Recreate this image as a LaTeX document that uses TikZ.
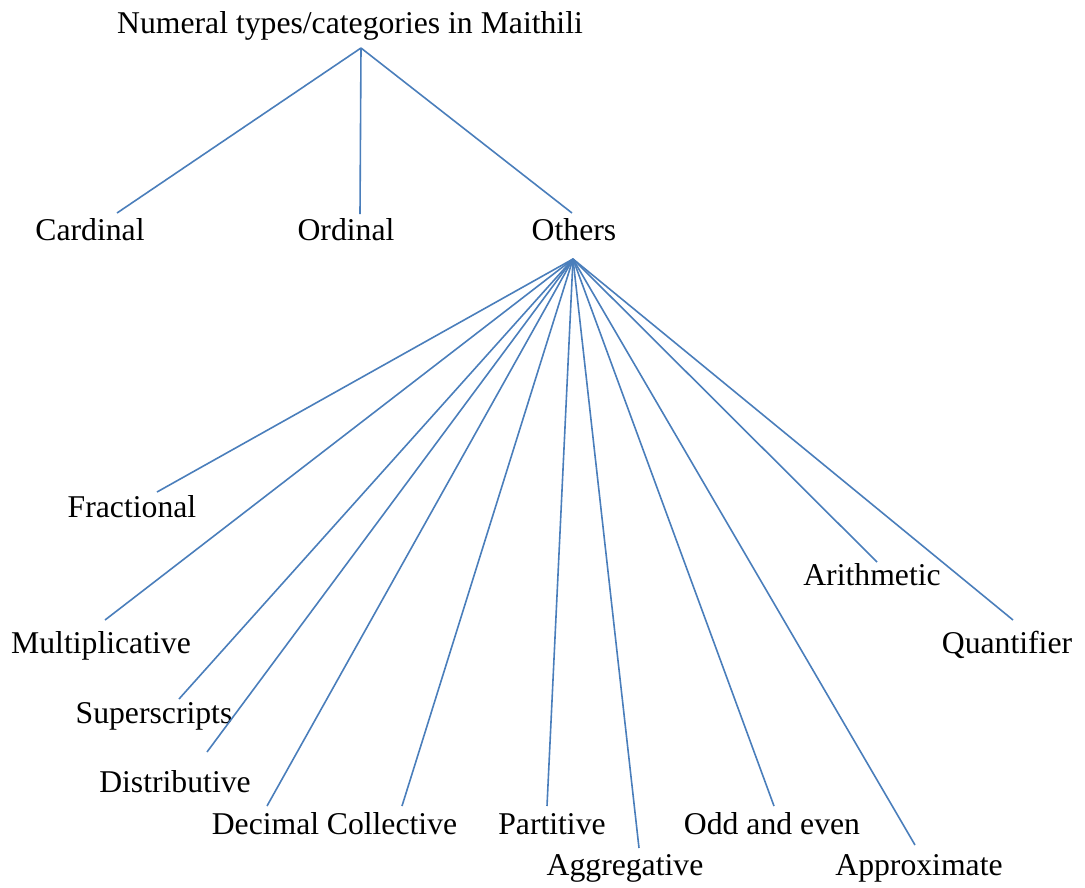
\documentclass[tikz,border=0pt]{standalone}
\usepackage{fontspec}
\setmainfont{Liberation Serif}
\definecolor{linkblue}{RGB}{74,126,187}
\begin{document}
\begin{tikzpicture}[x=1pt,y=-1pt,
  lbl/.style={anchor=base,inner sep=0pt,font=\fontsize{31.7}{38}\selectfont},
  link/.style={draw=linkblue,line width=1.6pt}]
\useasboundingbox (0,0) rectangle (1085,887);
% labels
\node[lbl] (root) at (350,33) {Numeral types/categories in Maithili};
\node[lbl] (card) at (90,240) {Cardinal};
\node[lbl] (ord) at (346,240) {Ordinal};
\node[lbl] (oth) at (574,240) {Others};
\node[lbl] (frac) at (132,517) {Fractional};
\node[lbl] (mult) at (101,653) {Multiplicative};
\node[lbl] (sup) at (154,723) {Superscripts};
\node[lbl] (dist) at (175,792) {Distributive};
\node[lbl] (dec) at (265.5,834) {Decimal};
\node[lbl] (coll) at (392,834) {Collective};
\node[lbl] (part) at (552,834) {Partitive};
\node[lbl] (aggr) at (625,875) {Aggregative};
\node[lbl] (odd) at (772,834) {Odd and even};
\node[lbl] (appr) at (919,875) {Approximate};
\node[lbl] (arit) at (872,585) {Arithmetic};
\node[lbl] (quan) at (1007,653) {Quantifier};
% connector ends
\coordinate (rootP) at (361,48);
\coordinate (othP) at (573,259);
\coordinate (cardP) at (117,213);
\coordinate (ordP) at (360,214);
\coordinate (othT) at (572,213);
\coordinate (fracP) at (157,492);
\coordinate (multP) at (105,620);
\coordinate (supP) at (179,699);
\coordinate (distP) at (207,752);
\coordinate (decP) at (267,806);
\coordinate (collP) at (402,806);
\coordinate (partP) at (547,806);
\coordinate (aggrP) at (639,848);
\coordinate (oddP) at (774,806);
\coordinate (apprP) at (915,845);
\coordinate (aritP) at (877,562);
\coordinate (quanP) at (1013,620);
% connectors
\foreach \e in {cardP,ordP,othT}{\draw[link] (rootP) -- (\e);}
\foreach \e in {fracP,multP,supP,distP,decP,collP,partP,aggrP,oddP,apprP,aritP,quanP}{\draw[link] (othP) -- (\e);}
\end{tikzpicture}
\end{document}
